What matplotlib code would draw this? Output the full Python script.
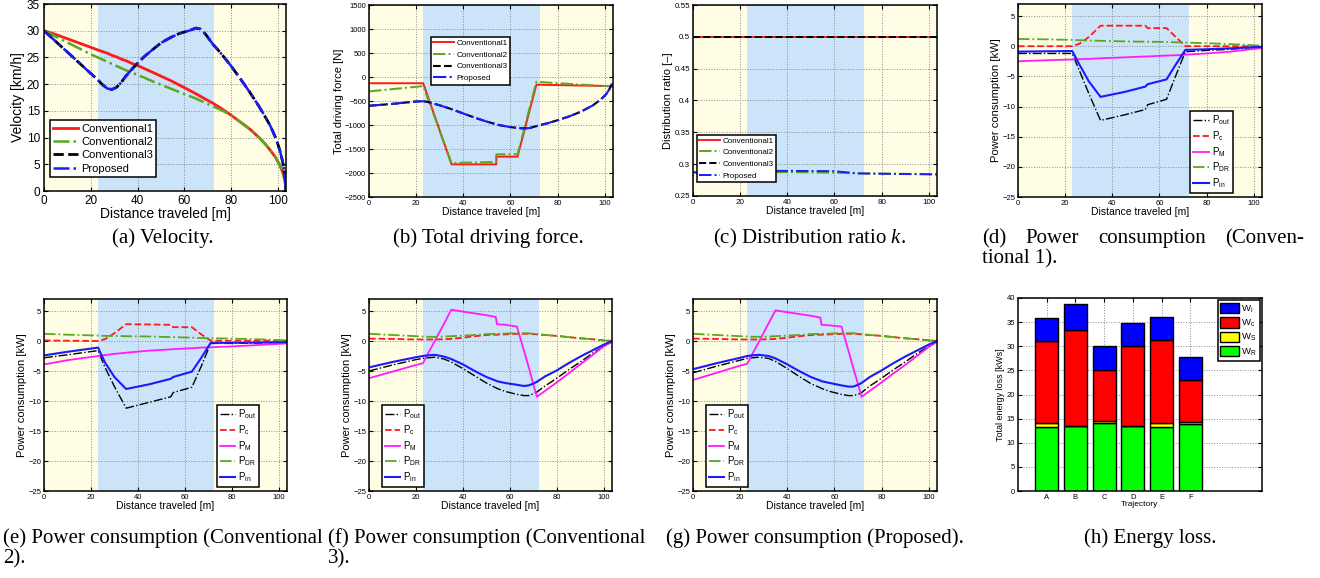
import numpy as np
import matplotlib.pyplot as plt

plt.rcParams['font.family'] = 'Liberation Sans'
plt.rcParams['mathtext.fontset'] = 'custom'
plt.rcParams['mathtext.rm'] = 'Liberation Sans'
plt.rcParams['mathtext.it'] = 'Liberation Serif:italic'

# ---------------- data ----------------
# (a) velocity [km/h]
dist_v = [0, 5, 10, 15, 20, 23, 25, 27, 29, 31, 33, 35, 38, 40, 43, 46, 50, 54, 58, 62,
          65, 67, 69, 72, 76, 80, 84, 88, 92, 95, 97, 99, 100, 101, 102, 103, 103.5]
vel_conv1 = [30.0, 29.3, 28.5, 27.7, 26.9, 26.4, 26.1, 25.8, 25.4, 25.1, 24.7, 24.4, 23.8, 23.5,
             22.9, 22.3, 21.5, 20.7, 19.8, 18.9, 18.2, 17.7, 17.2, 16.5, 15.4, 14.2, 12.9, 11.6,
             10.0, 8.6, 7.5, 6.3, 5.5, 4.7, 3.6, 2.1, 0.0]
vel_conv2 = [30.0, 28.9, 27.8, 26.7, 25.6, 25.0, 24.6, 24.2, 23.8, 23.4, 23.0, 22.6, 22.1, 21.7,
             21.2, 20.6, 19.9, 19.2, 18.5, 17.8, 17.3, 16.9, 16.5, 15.9, 15.1, 14.2, 12.9, 11.6,
             10.0, 8.6, 7.5, 6.3, 5.5, 4.7, 3.6, 2.1, 0.0]
vel_conv3 = [30.0, 28.0, 26.0, 24.0, 22.0, 20.8, 19.9, 19.2, 19.0, 19.4, 20.3, 21.5, 23.0, 23.9,
             25.2, 26.3, 27.7, 28.7, 29.5, 30.0, 30.5, 30.3, 29.4, 27.6, 25.6, 23.4, 21.0, 18.5,
             15.8, 13.6, 12.0, 10.0, 8.8, 7.4, 5.6, 3.2, 0.0]
vel_prop = [30.0, 28.0, 26.0, 24.0, 22.0, 20.8, 19.9, 19.2, 19.0, 19.4, 20.3, 21.5, 23.0, 23.9,
            25.2, 26.3, 27.7, 28.7, 29.5, 30.0, 30.5, 30.3, 29.4, 27.6, 25.6, 23.4, 21.0, 18.5,
            15.8, 13.6, 12.0, 10.0, 8.8, 7.4, 5.6, 3.2, 0.0]

# (b) total driving force [N]
dist_step = [0, 23, 35, 54, 54, 63, 71, 103.5]
force_conv1 = [-130, -130, -1820, -1820, -1660, -1660, -160, -190]
force_conv2 = [-300, -190, -1790, -1770, -1610, -1610, -100, -200]
dist_f = [0, 5, 10, 15, 20, 23, 25, 30, 35, 40, 45, 50, 55, 60, 65, 68, 72, 76, 80, 85, 90,
          95, 98, 100, 101, 102, 103, 103.5]
force_conv3 = [-600, -580, -560, -535, -510, -505, -520, -590, -670, -760, -850, -930, -1000,
               -1045, -1070, -1065, -1010, -960, -900, -820, -720, -590, -480, -390, -330, -250,
               -150, -80]
force_prop = [-600, -580, -560, -535, -510, -505, -520, -590, -670, -760, -850, -930, -1000,
              -1045, -1070, -1065, -1010, -960, -900, -820, -720, -590, -480, -390, -330, -250,
              -150, -80]

# (c) distribution ratio k
dist_k = [0, 20, 40, 60, 70, 80, 103.5]
k_conv1 = [0.5, 0.5, 0.5, 0.5, 0.5, 0.5, 0.5]
k_conv2 = [0.287, 0.287, 0.2875, 0.2865, 0.2855, 0.285, 0.2845]
k_conv3 = [0.5, 0.5, 0.5, 0.5, 0.5, 0.5, 0.5]
k_prop = [0.287, 0.2895, 0.2895, 0.289, 0.2855, 0.285, 0.2838]

# (d), (e) power consumption [kW], conventional 1 and 2
dist_p = [0, 10, 23, 26, 30, 35, 45, 54, 55, 63, 67, 71, 80, 90, 103.5]
c1_pout = [-1.2, -1.2, -1.2, -4.0, -7.8, -12.3, -11.4, -10.5, -9.7, -8.8, -4.8, -0.9, -0.7, -0.5, -0.1]
c1_pc = [0, 0, 0, 0.4, 1.5, 3.4, 3.4, 3.4, 3.0, 3.0, 1.5, 0, 0, 0, 0]
c1_pm = [-2.5, -2.35, -2.2, -2.15, -2.1, -2.0, -1.85, -1.7, -1.7, -1.55, -1.5, -1.4, -1.2, -0.9, -0.3]
c1_pdr = [1.2, 1.15, 1.05, 1.0, 0.95, 0.9, 0.8, 0.75, 0.75, 0.7, 0.65, 0.6, 0.5, 0.35, 0.1]
c1_pin = [-0.9, -0.85, -0.8, -3.0, -5.8, -8.4, -7.6, -6.7, -6.3, -5.5, -3.0, -0.6, -0.5, -0.35, -0.1]

c2_pout = [-2.8, -2.3, -1.6, -4.4, -7.6, -11.2, -10.2, -9.3, -8.6, -7.7, -4.2, -0.4, -0.4, -0.35, -0.2]
c2_pc = [0.1, 0.05, 0, 0.3, 1.3, 2.8, 2.75, 2.7, 2.3, 2.3, 1.1, 0.05, 0.05, 0.05, 0.05]
c2_pm = [-3.9, -3.2, -2.5, -2.35, -2.15, -1.95, -1.6, -1.4, -1.35, -1.2, -1.1, -1.05, -0.9, -0.7, -0.4]
c2_pdr = [1.2, 1.05, 0.9, 0.85, 0.85, 0.8, 0.75, 0.65, 0.65, 0.55, 0.5, 0.45, 0.4, 0.3, 0.1]
c2_pin = [-2.4, -1.8, -1.1, -3.6, -6.0, -8.0, -7.2, -6.3, -6.0, -5.1, -2.8, -0.3, -0.3, -0.25, -0.2]

# (f), (g) power consumption [kW], conventional 3 and proposed
dist_q = [0, 10, 20, 23, 25, 28, 32, 35, 40, 45, 50, 54, 54.5, 58, 63, 66, 68, 70, 71.5, 75,
          80, 85, 90, 95, 100, 103.5]
c3_pout = [-5.0, -4.0, -3.1, -2.9, -2.8, -2.7, -3.0, -3.5, -4.6, -5.8, -7.0, -7.8, -7.9, -8.4,
           -8.9, -9.1, -9.1, -8.8, -8.5, -7.5, -6.2, -4.8, -3.5, -2.1, -0.9, -0.1]
c3_pc = [0.4, 0.35, 0.25, 0.25, 0.25, 0.25, 0.3, 0.35, 0.55, 0.8, 1.0, 1.05, 1.05, 1.1, 1.2,
         1.2, 1.2, 1.15, 1.1, 1.0, 0.85, 0.65, 0.45, 0.3, 0.1, 0.0]
c3_pm = [-6.2, -5.1, -4.0, -3.7, -2.2, 0.0, 2.9, 5.2, 4.9, 4.6, 4.3, 4.0, 2.8, 2.7, 2.4, -1.6,
         -4.3, -7.2, -9.3, -8.3, -6.9, -5.4, -3.9, -2.4, -0.9, -0.1]
c3_pdr = [1.2, 1.0, 0.8, 0.75, 0.7, 0.7, 0.75, 0.8, 0.9, 1.0, 1.15, 1.2, 1.2, 1.25, 1.3, 1.3,
          1.3, 1.2, 1.15, 1.0, 0.85, 0.65, 0.45, 0.3, 0.1, 0.0]
c3_pin = [-4.4, -3.5, -2.7, -2.5, -2.4, -2.3, -2.6, -3.0, -3.9, -5.0, -6.0, -6.6, -6.7, -7.0,
          -7.3, -7.5, -7.4, -7.1, -6.8, -5.9, -4.9, -3.7, -2.6, -1.6, -0.6, 0.0]

pr_pout = [-5.3, -4.2, -3.2, -2.9, -2.8, -2.7, -2.9, -3.4, -4.6, -5.9, -7.1, -7.8, -7.9, -8.4,
           -8.9, -9.1, -9.1, -8.9, -8.6, -7.5, -6.2, -4.8, -3.5, -2.1, -0.9, -0.1]
pr_pc = [0.4, 0.35, 0.25, 0.25, 0.25, 0.25, 0.3, 0.35, 0.55, 0.8, 1.0, 1.05, 1.05, 1.1, 1.2,
         1.2, 1.2, 1.15, 1.1, 1.0, 0.85, 0.65, 0.45, 0.3, 0.1, 0.0]
pr_pm = [-6.5, -5.3, -4.1, -3.8, -2.3, -0.1, 2.9, 5.1, 4.8, 4.5, 4.2, 3.9, 2.7, 2.6, 2.4, -1.7,
         -4.5, -7.2, -9.3, -8.3, -6.9, -5.4, -4.0, -2.5, -1.0, -0.1]
pr_pdr = [1.2, 1.0, 0.8, 0.75, 0.7, 0.7, 0.75, 0.8, 0.9, 1.0, 1.15, 1.2, 1.2, 1.25, 1.3, 1.3,
          1.3, 1.2, 1.15, 1.0, 0.85, 0.65, 0.45, 0.3, 0.1, 0.0]
pr_pin = [-4.7, -3.7, -2.8, -2.5, -2.4, -2.3, -2.5, -2.9, -3.9, -5.0, -6.0, -6.6, -6.7, -7.0,
          -7.4, -7.6, -7.6, -7.3, -7.0, -6.0, -4.9, -3.7, -2.6, -1.6, -0.6, 0.0]

# (h) energy loss [kWs]
trajectories = ['A', 'B', 'C', 'D', 'E', 'F']
w_r = [13.2, 13.4, 14.0, 13.4, 13.2, 13.9]
w_s = [0.8, 0.1, 0.6, 0.1, 0.8, 0.5]
w_c = [17.0, 19.8, 10.5, 16.5, 17.2, 8.7]
w_i = [4.9, 5.4, 5.0, 4.8, 4.9, 4.7]

# ---------------- figure ----------------
W, H = 1320, 578
fig = plt.figure(figsize=(W / 100, H / 100), dpi=100)

GREEN = '#5aa81e'
YEL = '#fffde4'
BLU = '#cce4fa'


def make_ax(l, t, r, b):
    return fig.add_axes([l / W, 1 - b / H, (r - l) / W, (b - t) / H])


def shade(ax):
    ax.axvspan(0, 23, color=YEL, lw=0, zorder=0)
    ax.axvspan(23, 72.5, color=BLU, lw=0, zorder=0)
    ax.axvspan(72.5, 103.5, color=YEL, lw=0, zorder=0)
    ax.set_xlim(0, 103.5)
    ax.set_xticks([0, 20, 40, 60, 80, 100])


def style(ax, ts, pad=2):
    ax.tick_params(direction='in', top=True, right=True, labelsize=ts, length=3,
                   width=0.8, pad=pad)
    ax.grid(True, ls=':', color='#8c8c8c', lw=0.7)
    for s in ax.spines.values():
        s.set_linewidth(1.1)


def legend(ax, fs, **kw):
    kw.setdefault('borderpad', 0.3)
    kw.setdefault('handletextpad', 0.3)
    lg = ax.legend(fontsize=fs, fancybox=False, edgecolor='k', framealpha=1,
                   borderaxespad=0, **kw)
    lg.get_frame().set_linewidth(1.1)
    return lg


# (a)
ax = make_ax(44, 4, 286, 191)
shade(ax)
ax.plot(dist_v, vel_conv1, '-', color='#ff1a1a', lw=2.0, label='Conventional1')
ax.plot(dist_v, vel_conv2, '-.', color=GREEN, lw=1.8, label='Conventional2')
ax.plot(dist_v, vel_conv3, '--', color='k', lw=2.0, label='Conventional3')
ax.plot(dist_v, vel_prop, '-.', color='#1a1aff', lw=1.8, label='Proposed')
ax.set_ylim(0, 35)
ax.set_xlabel('Distance traveled [m]', fontsize=10, labelpad=0)
ax.set_ylabel('Velocity [km/h]', fontsize=10, labelpad=1)
style(ax, 8.5, pad=3)
legend(ax, 8, loc='lower left', bbox_to_anchor=(0.025, 0.075), labelspacing=0.3,
       handlelength=2.2)

# (b)
ax = make_ax(369, 5, 613, 197)
shade(ax)
ax.plot(dist_step, force_conv1, '-', color='#ff1a1a', lw=1.4, label='Conventional1')
ax.plot(dist_step, force_conv2, '-.', color=GREEN, lw=1.4, label='Conventional2')
ax.plot(dist_f, force_conv3, '--', color='k', lw=1.5, label='Conventional3')
ax.plot(dist_f, force_prop, '-.', color='#1a1aff', lw=1.5, label='Proposed')
ax.set_ylim(-2500, 1500)
ax.set_yticks(np.arange(-2500, 1501, 500))
ax.set_xlabel('Distance traveled [m]', fontsize=7.5, labelpad=0)
ax.set_ylabel('Total driving force [N]', fontsize=8, labelpad=1)
style(ax, 5.5)
legend(ax, 5.8, loc='upper left', bbox_to_anchor=(0.254, 0.833), labelspacing=0.5,
       handlelength=2.6)

# (c)
ax = make_ax(693, 5, 937, 196)
shade(ax)
ax.plot(dist_k, k_conv1, '-', color='#ff1a1a', lw=1.4, label='Conventional1')
ax.plot(dist_k, k_conv2, '-.', color=GREEN, lw=1.4, label='Conventional2')
ax.plot(dist_k, k_conv3, '--', color='k', lw=1.4, label='Conventional3')
ax.plot(dist_k, k_prop, '-.', color='#1a1aff', lw=1.4, label='Proposed')
ax.set_ylim(0.25, 0.55)
ax.set_yticks([0.25, 0.3, 0.35, 0.4, 0.45, 0.5, 0.55])
ax.set_yticklabels(['0.25', '0.3', '0.35', '0.4', '0.45', '0.5', '0.55'])
ax.set_xlabel('Distance traveled [m]', fontsize=7.5, labelpad=0)
ax.set_ylabel('Distribution ratio [\u2013]', fontsize=8, labelpad=1)
style(ax, 5.8)
legend(ax, 5.8, loc='lower left', bbox_to_anchor=(0.016, 0.073), labelspacing=0.5,
       handlelength=2.6)


def power_panel(box, pout, pc, pm, pdr, pin, dist, anchor, loc):
    ax = make_ax(*box)
    shade(ax)
    ax.plot(dist, pout, '-.', color='k', lw=1.0, label=r'$\mathrm{P_{out}}$')
    ax.plot(dist, pc, '--', color='#ff1a1a', lw=1.3, label=r'$\mathrm{P_{c}}$')
    ax.plot(dist, pm, '-', color='#ff1aff', lw=1.3, label=r'$\mathrm{P_{M}}$')
    ax.plot(dist, pdr, '-.', color=GREEN, lw=1.3, label=r'$\mathrm{P_{DR}}$')
    ax.plot(dist, pin, '-', color='#1a1aff', lw=1.5, label=r'$\mathrm{P_{in}}$')
    ax.set_ylim(-25, 7)
    ax.set_yticks([-25, -20, -15, -10, -5, 0, 5])
    ax.set_xlabel('Distance traveled [m]', fontsize=7.5, labelpad=0)
    ax.set_ylabel('Power consumption [kW]', fontsize=8, labelpad=1)
    style(ax, 5.5)
    legend(ax, 7, loc=loc, bbox_to_anchor=anchor, labelspacing=0.2, handlelength=1.6)
    return ax


power_panel((1018, 4, 1262, 197), c1_pout, c1_pc, c1_pm, c1_pdr, c1_pin, dist_p,
            (0.88, 0.02), 'lower right')
power_panel((44, 299, 287, 491), c2_pout, c2_pc, c2_pm, c2_pdr, c2_pin, dist_p,
            (0.885, 0.02), 'lower right')
power_panel((369, 299, 612, 491), c3_pout, c3_pc, c3_pm, c3_pdr, c3_pin, dist_q,
            (0.053, 0.02), 'lower left')
power_panel((693, 299, 937, 491), pr_pout, pr_pc, pr_pm, pr_pdr, pr_pin, dist_q,
            (0.053, 0.02), 'lower left')

# (h)
ax = make_ax(1018, 298, 1262, 491)
pos = np.arange(1, len(trajectories) + 1)
bot = np.zeros(len(pos))
for vals, col, lab in [(w_r, '#00ff00', r'$\mathrm{W_R}$'), (w_s, '#ffff00', r'$\mathrm{W_S}$'),
                       (w_c, '#ff0000', r'$\mathrm{W_c}$'), (w_i, '#0000ff', r'$\mathrm{W_i}$')]:
    ax.bar(pos, vals, 0.8, bottom=bot, color=col, edgecolor='k', lw=1.0, label=lab, zorder=2)
    bot = bot + np.array(vals)
ax.set_xlim(0, 8.5)
ax.set_xticks(pos)
ax.set_xticklabels(trajectories)
ax.set_ylim(0, 40)
ax.set_yticks(np.arange(0, 41, 5))
ax.set_xlabel('Trajectory', fontsize=6, labelpad=0)
ax.set_ylabel('Total energy loss [kWs]', fontsize=6.5, labelpad=1)
style(ax, 5.5)
h, l = ax.get_legend_handles_labels()
legend(ax, 6.8, handles=h[::-1], labels=l[::-1], loc='upper right',
       bbox_to_anchor=(0.99, 0.99), labelspacing=0.28, handlelength=2.0, handleheight=1.3,
       handletextpad=0.2)

# ---------------- captions ----------------
cap = dict(fontfamily='Liberation Serif', fontsize=15, va='baseline')
fig.text(163 / W, 1 - 243 / H, '(a) Velocity.', ha='center', **cap)
fig.text(488 / W, 1 - 243 / H, '(b) Total driving force.', ha='center', **cap)
fig.text(810 / W, 1 - 243 / H, '(c) Distribution ratio $k$.', ha='center', **cap)

words = ['(d)', 'Power', 'consumption', '(Conven-']
texts = [fig.text(0, 1 - 243 / H, w_, ha='left', **cap) for w_ in words]
fig.canvas.draw()
rend = fig.canvas.get_renderer()
widths = [t.get_window_extent(rend).width for t in texts]
x0, x1 = 982, 1304
gap = (x1 - x0 - sum(widths)) / (len(words) - 1)
x = x0
for t, wd in zip(texts, widths):
    t.set_x(x / W)
    x += wd + gap
fig.text(x0 / W, 1 - 263 / H, 'tional 1).', ha='left', **cap)

fig.text(3 / W, 1 - 543 / H, '(e) Power consumption (Conventional', ha='left', **cap)
fig.text(3 / W, 1 - 563 / H, '2).', ha='left', **cap)
fig.text(328 / W, 1 - 543 / H, '(f) Power consumption (Conventional', ha='left', **cap)
fig.text(328 / W, 1 - 563 / H, '3).', ha='left', **cap)
fig.text(815 / W, 1 - 543 / H, '(g) Power consumption (Proposed).', ha='center', **cap)
fig.text(1150 / W, 1 - 543 / H, '(h) Energy loss.', ha='center', **cap)

fig.savefig('out.png', dpi=100)
